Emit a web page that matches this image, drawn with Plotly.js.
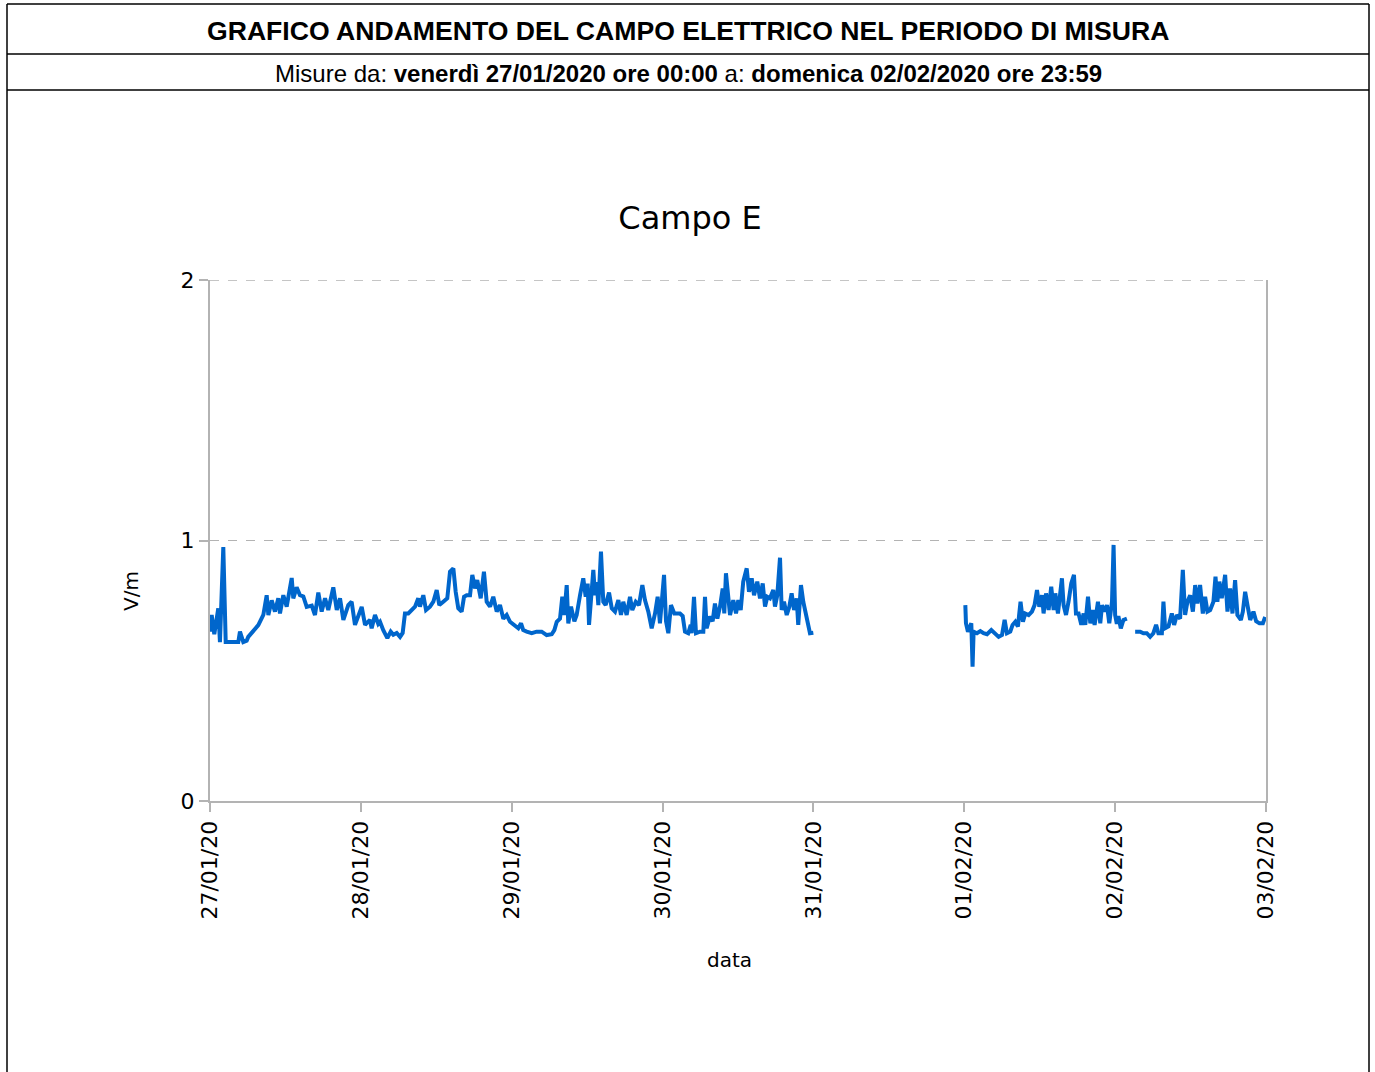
<!DOCTYPE html>
<html>
<head>
<meta charset="utf-8">
<script src="https://cdn.plot.ly/plotly-3.0.1.min.js"></script>
<style>
html,body{margin:0;padding:0;background:#fff;}
#chart{width:1375px;height:1072px;}
</style>
</head>
<body>
<div id="chart"></div>
<script>
// ---- Data ----
const t27 = ["00:00","00:16","00:41","01:19","01:35","02:07","02:30","04:30","04:46","05:18","05:50","06:05","07:41","08:29","09:01","09:17","09:49","10:20","10:52","11:08","11:40","12:12","13:00","13:15","13:47","14:19","14:51","15:23","16:11","16:42","17:14","17:46","18:18","18:49","19:37","20:10","20:41","21:13","22:00","22:32","23:04"];
const v27 = [0.65,0.714,0.64,0.74,0.61,0.975,0.61,0.61,0.65,0.61,0.615,0.63,0.675,0.714,0.79,0.714,0.77,0.727,0.778,0.72,0.79,0.746,0.856,0.778,0.82,0.79,0.785,0.745,0.75,0.714,0.80,0.727,0.778,0.733,0.82,0.733,0.778,0.695,0.752,0.765,0.676];

const t28 = ["00:08","00:40","01:27","01:43","02:15","02:46","03:03","03:34","04:13","04:45","05:10","05:42","06:14","06:39","07:01","07:33","08:05","08:37","09:08","09:24","09:56","10:22","11:00","11:32","12:04","12:29","13:07","13:45","14:11","14:43","15:05","15:30","16:02","16:25","16:50","17:22","17:44","18:10","18:31","19:04","19:35","20:01","20:33","21:04","21:37","22:08","22:40","23:12","23:44"];
const v28 = [0.745,0.676,0.695,0.663,0.714,0.68,0.688,0.656,0.625,0.65,0.638,0.645,0.63,0.645,0.72,0.72,0.733,0.746,0.778,0.746,0.79,0.733,0.746,0.765,0.81,0.752,0.765,0.778,0.88,0.893,0.803,0.74,0.727,0.784,0.79,0.79,0.868,0.816,0.848,0.778,0.88,0.765,0.746,0.784,0.727,0.752,0.70,0.714,0.688];

const t29 = ["00:22","01:03","01:29","01:50","02:23","03:11","03:58","04:46","05:34","06:22","06:47","07:10","07:41","08:03","08:22","08:45","09:00","09:26","09:58","10:20","10:52","11:23","11:46","12:05","12:18","12:37","12:59","13:15","13:31","13:47","14:12","14:34","14:57","15:29","15:55","16:26","16:58","17:23","17:45","18:17","18:49","19:11","19:44","20:15","20:47","21:12","21:44","22:16","22:48","23:13","23:35"];
const v29 = [0.676,0.663,0.682,0.656,0.65,0.644,0.65,0.65,0.637,0.64,0.656,0.688,0.70,0.784,0.714,0.829,0.682,0.746,0.69,0.714,0.79,0.855,0.784,0.835,0.676,0.79,0.887,0.79,0.84,0.752,0.957,0.765,0.752,0.80,0.74,0.727,0.771,0.714,0.765,0.714,0.784,0.733,0.765,0.752,0.829,0.771,0.727,0.663,0.72,0.784,0.682];

const t30 = ["00:14","00:33","00:55","01:20","01:52","02:08","02:46","03:12","03:34","04:05","04:29","04:38","05:00","05:19","05:57","06:29","06:45","07:01","07:32","07:58","08:20","08:43","09:08","09:34","09:49","10:05","10:22","10:44","11:15","11:41","12:03","12:26","12:50","13:23","13:45","14:11","14:33","15:04","15:30","15:56","16:18","16:40","17:05","17:37","17:53","18:15","18:41","18:57","19:19","19:45","20:10","20:32","20:55","21:20","21:35","22:01","22:23","22:49","23:11","23:27","23:59"];
const v30 = [0.868,0.69,0.644,0.752,0.72,0.72,0.72,0.71,0.65,0.644,0.676,0.644,0.784,0.644,0.65,0.65,0.784,0.663,0.708,0.69,0.758,0.70,0.746,0.816,0.72,0.874,0.79,0.714,0.771,0.72,0.771,0.733,0.842,0.893,0.803,0.855,0.79,0.842,0.778,0.835,0.746,0.784,0.778,0.81,0.746,0.79,0.934,0.733,0.765,0.714,0.746,0.797,0.733,0.778,0.676,0.829,0.765,0.714,0.682,0.644,0.646];

// 31/01: no measurements
const t31 = ["12:00"];
const v31 = [null];

const t01 = ["00:10","00:16","00:35","00:48","01:07","01:19","01:29","02:01","02:33","03:04","03:37","04:18","04:56","05:28","06:00","06:25","06:47","07:19","07:41","08:07","08:32","08:57","09:20","09:42","10:14","10:46","11:11","11:34","11:56","12:22","12:37","13:00","13:25","13:50","14:13","14:29","14:54","15:32","15:48","16:11","16:35","17:01","17:27","17:46","18:11","18:37","18:59","19:15","19:41","20:03","20:25","20:44","21:16","21:38","21:55","22:19","22:42","23:04","23:30","23:45"];
const v01 = [0.752,0.682,0.65,0.663,0.682,0.516,0.65,0.644,0.652,0.644,0.64,0.656,0.644,0.63,0.637,0.695,0.644,0.65,0.676,0.688,0.67,0.765,0.688,0.72,0.714,0.727,0.752,0.81,0.746,0.79,0.72,0.797,0.733,0.823,0.733,0.797,0.72,0.855,0.752,0.714,0.765,0.835,0.868,0.72,0.72,0.676,0.72,0.676,0.784,0.682,0.733,0.676,0.765,0.682,0.752,0.727,0.752,0.682,0.765,0.983];

const t02 = ["00:00","00:16","00:31","00:54","01:19","01:52","02:30","03:11","03:59","04:30","05:02","05:34","06:05","06:31","06:53","07:26","07:41","07:57","08:29","09:01","09:23","09:49","10:20","10:46","11:08","11:30","11:56","12:22","12:44","13:05","13:31","13:57","14:19","14:41","15:07","15:38","15:58","16:16","16:35","16:58","17:30","17:52","18:17","18:40","19:05","19:27","20:00","20:19","20:41","21:03","21:29","22:00","22:26","22:57","23:30","23:52"];
const v02 = [0.714,0.68,0.71,0.663,0.695,0.70,null,0.65,0.65,0.644,0.644,0.63,0.644,0.676,0.644,0.644,0.765,0.663,0.67,0.72,0.676,0.714,0.70,0.887,0.714,0.765,0.79,0.727,0.829,0.758,0.829,0.72,0.784,0.727,0.733,0.765,0.861,0.765,0.842,0.778,0.868,0.727,0.816,0.72,0.848,0.714,0.695,0.727,0.803,0.752,0.695,0.727,0.69,0.682,0.682,0.707];

const dayDates = ["2020-01-27","2020-01-28","2020-01-29","2020-01-30","2020-01-31","2020-02-01","2020-02-02"];
const tickDates = ["2020-01-27","2020-01-28","2020-01-29","2020-01-30","2020-01-31","2020-02-01","2020-02-02","2020-02-03"];
const tickLabels = ["27/01/20","28/01/20","29/01/20","30/01/20","31/01/20","01/02/20","02/02/20","03/02/20"];
const yTicks = [0, 1, 2];

// ---- Build series ----
const dayTimes = [t27,t28,t29,t30,t31,t01,t02];
const dayVals = [v27,v28,v29,v30,v31,v01,v02];
const xs = [], ys = [];
dayTimes.forEach((tt,i)=>{ tt.forEach((t,j)=>{ xs.push(dayDates[i]+' '+t); ys.push(dayVals[i][j]); }); });

// ---- Layout geometry (pixels) ----
const W = 1375, H = 1072;
const L = 210, R = 1266, T = 280, B = 801;
const px = p => (p - L) / (R - L);
const py = p => (B - p) / (B - T);

const FONT = 'DejaVu Sans, sans-serif';
const HFONT = 'Liberation Sans, Arial, sans-serif';
const frame = {color:'#000', width:1.5};

const shapes = [
  {type:'line', xref:'paper', yref:'paper', x0:px(7), x1:px(7), y0:py(4), y1:py(1100), line:frame},
  {type:'line', xref:'paper', yref:'paper', x0:px(1369), x1:px(1369), y0:py(4), y1:py(1100), line:frame},
  {type:'line', xref:'paper', yref:'paper', x0:px(7), x1:px(1369), y0:py(4), y1:py(4), line:frame},
  {type:'line', xref:'paper', yref:'paper', x0:px(7), x1:px(1369), y0:py(54), y1:py(54), line:frame},
  {type:'line', xref:'paper', yref:'paper', x0:px(7), x1:px(1369), y0:py(90), y1:py(90), line:frame},
  // top gridline at the maximum of the y range
  {type:'line', xref:'paper', yref:'y', x0:0, x1:1, y0:yTicks[2], y1:yTicks[2], line:{color:'#b3b3b3', width:1.5, dash:'dash'}, layer:'below'}
];

const annotations = [
  {xref:'paper', yref:'paper', x:px(688), y:py(31), xanchor:'center', yanchor:'middle', showarrow:false,
   text:'<b>GRAFICO ANDAMENTO DEL CAMPO ELETTRICO NEL PERIODO DI MISURA</b>', font:{family:HFONT, size:26.6, color:'#000'}},
  {xref:'paper', yref:'paper', x:px(688), y:py(73), xanchor:'center', yanchor:'middle', showarrow:false,
   text:'Misure da: <b>venerdì 27/01/2020 ore 00:00</b> a: <b>domenica 02/02/2020 ore 23:59</b>', font:{family:HFONT, size:24, color:'#000'}},
  {xref:'paper', yref:'paper', x:px(131), y:py(591), xanchor:'center', yanchor:'middle', showarrow:false, textangle:-90,
   text:'V/m', font:{family:FONT, size:20, color:'#000'}},
  {xref:'paper', yref:'paper', x:px(729), y:py(960), xanchor:'center', yanchor:'middle', showarrow:false,
   text:'data', font:{family:FONT, size:20, color:'#000'}}
];

const trace = {
  x: xs, y: ys, type:'scatter', mode:'lines', connectgaps:false,
  line:{color:'#0066cc', width:4}, hoverinfo:'skip'
};

const layout = {
  width:W, height:H,
  margin:{l:L, r:W-R, t:T, b:H-B, pad:0},
  paper_bgcolor:'#fff', plot_bgcolor:'#fff',
  showlegend:false,
  title:{text:'Campo E', font:{family:FONT, size:32, color:'#000'}, x:690/W, xanchor:'center', y:1-218/H, yanchor:'middle', yref:'container'},
  xaxis:{
    type:'date', range:[tickDates[0], tickDates[tickDates.length-1]],
    tickmode:'array', tickvals:tickDates, ticktext:tickLabels, tickangle:-90,
    ticks:'outside', ticklen:9, tickwidth:2, tickcolor:'#b3b3b3',
    showline:true, linecolor:'#b3b3b3', linewidth:2, showgrid:false, zeroline:false,
    tickfont:{family:FONT, size:22, color:'#000'}
  },
  yaxis:{
    range:[yTicks[0], yTicks[2]], tickmode:'array', tickvals:yTicks, ticktext:yTicks.map(String),
    ticks:'outside', ticklen:9, tickwidth:2, tickcolor:'#b3b3b3',
    showline:true, mirror:true, linecolor:'#b3b3b3', linewidth:2,
    showgrid:true, gridcolor:'#b3b3b3', griddash:'dash', gridwidth:1, zeroline:false,
    tickfont:{family:FONT, size:22, color:'#000'}
  },
  shapes:shapes, annotations:annotations
};

Plotly.newPlot('chart', [trace], layout, {displayModeBar:false, staticPlot:true});
</script>
</body>
</html>
